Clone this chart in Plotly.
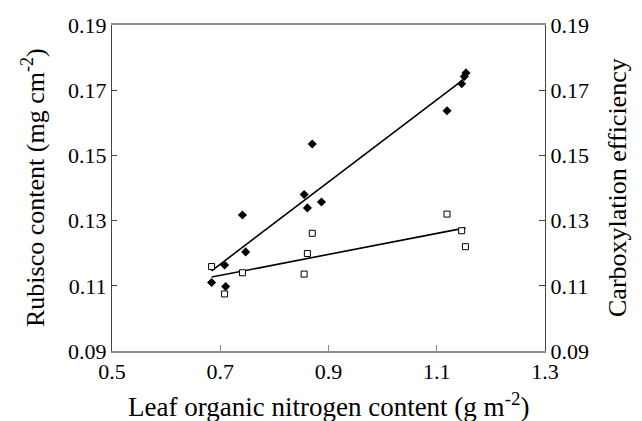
import numpy as np
import plotly.graph_objects as go

# Rubisco content (filled diamonds)
rub_x = [0.684, 0.708, 0.710, 0.741, 0.747, 0.855, 0.861, 0.870, 0.887, 1.119, 1.146, 1.151, 1.154]
rub_y = [0.1110, 0.1164, 0.1098, 0.1317, 0.1204, 0.1380, 0.1339, 0.1535, 0.1357, 0.1637, 0.1720, 0.1742, 0.1753]

# Carboxylation efficiency (open squares)
ce_x = [0.684, 0.708, 0.741, 0.855, 0.861, 0.870, 1.119, 1.146, 1.153]
ce_y = [0.1159, 0.1075, 0.1140, 0.1136, 0.1199, 0.1261, 0.1320, 0.1269, 0.1220]

x_ticks = [0.5, 0.7, 0.9, 1.1, 1.3]
y_ticks = [0.09, 0.11, 0.13, 0.15, 0.17, 0.19]

x_title = "Leaf organic nitrogen content (g m<sup>-2</sup>)"
y_title = "Rubisco content (mg cm<sup>-2</sup>)"
y2_title = "Carboxylation efficiency"

FONT = "Liberation Serif, Times New Roman, serif"


def fit_line(xs, ys):
    xs = np.asarray(xs)
    ys = np.asarray(ys)
    k, b = np.polyfit(xs, ys, 1)
    lx = np.array([xs.min(), xs.max()])
    return lx, k * lx + b


rl_x, rl_y = fit_line(rub_x, rub_y)
cl_x, cl_y = fit_line(ce_x, ce_y)

fig = go.Figure()
fig.add_trace(go.Scatter(x=rl_x, y=rl_y, mode="lines",
                         line=dict(color="black", width=1.6), showlegend=False))
fig.add_trace(go.Scatter(x=cl_x, y=cl_y, mode="lines", yaxis="y2",
                         line=dict(color="black", width=1.6), showlegend=False))
fig.add_trace(go.Scatter(x=rub_x, y=rub_y, mode="markers", name="Rubisco content",
                         marker=dict(symbol="diamond", size=7, color="black",
                                     line=dict(width=0)), showlegend=False))
fig.add_trace(go.Scatter(x=ce_x, y=ce_y, mode="markers", yaxis="y2",
                         name="Carboxylation efficiency",
                         marker=dict(symbol="square", size=6, color="white",
                                     line=dict(width=1, color="black")), showlegend=False))

# page body has an 8px default margin, so the figure is offset by 8px
fig.update_layout(
    width=642, height=421,
    margin=dict(l=104, r=105, t=17, b=77.5, autoexpand=False),
    paper_bgcolor="white", plot_bgcolor="white",
    font=dict(family=FONT, size=22, color="black"),
    xaxis=dict(range=[0.5, 1.3], tickvals=x_ticks, ticktext=[f"{v:.1f}" for v in x_ticks],
               ticks="inside", ticklen=6, tickcolor="#8a8a8a", tickwidth=1,
               showline=True, linecolor="#8a8a8a", linewidth=1.5, mirror=True,
               showgrid=False, zeroline=False),
    yaxis=dict(range=[0.09, 0.19], tickvals=y_ticks, ticktext=[f"{v:.2f}" for v in y_ticks],
               ticks="inside", ticklen=5, tickcolor="#444", tickwidth=1,
               showline=True, linecolor="#444", linewidth=1.2,
               showgrid=False, zeroline=False),
    yaxis2=dict(range=[0.09, 0.19], tickvals=y_ticks, ticktext=[f"{v:.2f}" for v in y_ticks],
                overlaying="y", side="right", anchor="x",
                ticks="inside", ticklen=6, tickcolor="#444", tickwidth=1,
                showline=True, linecolor="#444", linewidth=1.2,
                showgrid=False, zeroline=False),
    annotations=[
        dict(text=x_title, xref="paper", yref="paper", x=0.5, y=(351.5 - 406) / 326.5,
             xanchor="center", yanchor="middle", showarrow=False, font=dict(size=27)),
        dict(text=y_title, xref="paper", yref="paper", x=(33 - 112) / 433, y=0.5,
             xanchor="center", yanchor="middle", textangle=-90, showarrow=False,
             font=dict(size=26)),
        dict(text=y2_title, xref="paper", yref="paper", x=(617 - 112) / 433, y=0.5,
             xanchor="center", yanchor="middle", textangle=-90, showarrow=False,
             font=dict(size=26)),
    ],
)

fig.write_html("out.html")
